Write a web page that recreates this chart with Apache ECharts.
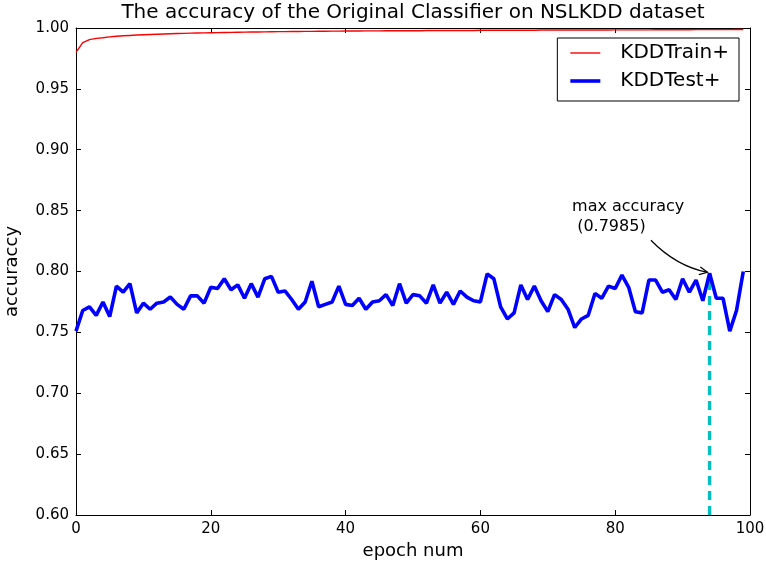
<!DOCTYPE html>
<html>
<head>
<meta charset="utf-8">
<script src="https://cdn.jsdelivr.net/npm/echarts@6/dist/echarts.min.js"></script>
<style>
    html, body { margin: 0; padding: 0; background: #fff; }
    #chart { width: 766px; height: 566px; }
</style>
</head>
<body>
<div id="chart"></div>
<script>
// accuracy per epoch
const trainAcc = [
    0.980, 0.988, 0.9905, 0.9915, 0.992, 0.9927, 0.9932, 0.9936, 0.9939, 0.9942,
    0.9945, 0.9947, 0.9949, 0.9951, 0.9953, 0.9955, 0.9956, 0.9958, 0.9959, 0.9960,
    0.9961, 0.9962, 0.9963, 0.9964, 0.9965, 0.9966, 0.9967, 0.9967, 0.9968, 0.9969,
    0.9970, 0.9970, 0.9971, 0.9971, 0.9972, 0.9972, 0.9973, 0.9973, 0.9974, 0.9974,
    0.9975, 0.9975, 0.9975, 0.9976, 0.9976, 0.9976, 0.9977, 0.9977, 0.9977, 0.9978,
    0.9978, 0.9978, 0.9979, 0.9979, 0.9979, 0.9979, 0.9980, 0.9980, 0.9980, 0.9980,
    0.9981, 0.9981, 0.9981, 0.9981, 0.9982, 0.9982, 0.9982, 0.9982, 0.9982, 0.9983,
    0.9983, 0.9983, 0.9983, 0.9983, 0.9984, 0.9984, 0.9984, 0.9984, 0.9984, 0.9984,
    0.9985, 0.9985, 0.9985, 0.9985, 0.9985, 0.9985, 0.9986, 0.9986, 0.9986, 0.9986,
    0.9986, 0.9986, 0.9987, 0.9987, 0.9987, 0.9987, 0.9987, 0.9987, 0.9988, 0.9988
];
const testAcc = [
    0.751, 0.768, 0.771, 0.764, 0.775, 0.763, 0.788, 0.783, 0.790, 0.766,
    0.774, 0.769, 0.774, 0.775, 0.779, 0.773, 0.769, 0.780, 0.780, 0.774,
    0.787, 0.786, 0.794, 0.785, 0.789, 0.778, 0.790, 0.779, 0.794, 0.796,
    0.783, 0.784, 0.777, 0.769, 0.775, 0.792, 0.771, 0.773, 0.775, 0.788,
    0.773, 0.772, 0.778, 0.769, 0.775, 0.776, 0.781, 0.772, 0.790, 0.774,
    0.781, 0.780, 0.774, 0.789, 0.774, 0.783, 0.773, 0.784, 0.779, 0.776,
    0.775, 0.798, 0.794, 0.771, 0.761, 0.766, 0.789, 0.777, 0.788, 0.776,
    0.767, 0.781, 0.777, 0.769, 0.754, 0.761, 0.764, 0.782, 0.778, 0.788,
    0.786, 0.797, 0.787, 0.767, 0.766, 0.793, 0.793, 0.783, 0.785, 0.777,
    0.794, 0.783, 0.793, 0.776, 0.7985, 0.778, 0.778, 0.751, 0.768, 0.800
];
const seriesNames = ['KDDTrain+', 'KDDTest+'];
const maxEpoch = 94;
const maxAcc = 0.7985;
const annoLines = ['max accuracy', ' (0.7985)'];
const annoTextAt = [73.6, 0.861];   // top-left of annotation text, data coords
const arrowFrom = [85.3, 0.8257];

const font = 'DejaVu Sans';
const black = '#000';

const toPairs = arr => arr.map((v, i) => [i, v]);

const chart = echarts.init(document.getElementById('chart'));

const axisCommon = {
    axisLine: { show: true, onZero: false, lineStyle: { color: black, width: 1 } },
    axisTick: { show: true, inside: true, length: 5, lineStyle: { color: black } },
    splitLine: { show: false },
};

chart.setOption({
    animation: false,
    backgroundColor: '#fff',
    title: {
        text: 'The accuracy of the Original Classifier on NSLKDD dataset',
        left: 'center',
        top: 0,
        padding: [3, 0, 0, 0],
        textStyle: { fontFamily: font, fontSize: 20, fontWeight: 'normal', color: black }
    },
    grid: { left: 76, right: 16, top: 28, bottom: 51, outerBoundsMode: 'none' },
    legend: {
        data: [
            { name: seriesNames[0], icon: 'path://M0,0H30V1.4H0Z' },
            { name: seriesNames[1], icon: 'path://M0,0H30V3.6H0Z' }
        ],
        orient: 'vertical',
        right: 27,
        top: 38,
        itemWidth: 30,
        itemHeight: 14,
        itemGap: 8,
        padding: [5, 10, 10, 13],
        borderColor: black,
        borderWidth: 1,
        borderRadius: 0,
        textStyle: { fontFamily: font, fontSize: 20, color: black, padding: [0, 0, 0, 15] }
    },
    xAxis: [
        Object.assign({
            type: 'value', min: 0, max: 100, interval: 20,
            name: 'epoch num', nameLocation: 'middle', nameGap: 27,
            nameTextStyle: { fontFamily: font, fontSize: 18, color: black },
            axisLabel: { fontFamily: font, fontSize: 15, color: black, margin: 7 }
        }, axisCommon),
        Object.assign({
            type: 'value', min: 0, max: 100, interval: 20, position: 'top',
            axisLabel: { show: false }
        }, axisCommon)
    ],
    yAxis: [
        Object.assign({
            type: 'value', min: 0.6, max: 1.0, interval: 0.05,
            name: 'accuraccy', nameLocation: 'middle', nameGap: 55,
            nameTextStyle: { fontFamily: font, fontSize: 18, color: black },
            axisLabel: {
                fontFamily: font, fontSize: 15, color: black, margin: 7,
                formatter: v => v.toFixed(2)
            }
        }, axisCommon),
        Object.assign({
            type: 'value', min: 0.6, max: 1.0, interval: 0.05, position: 'right',
            axisLabel: { show: false }
        }, axisCommon)
    ],
    series: [
        {
            name: seriesNames[0],
            type: 'line',
            data: toPairs(trainAcc),
            showSymbol: false,
            lineStyle: { color: '#ff0000', width: 1.4 },
            itemStyle: { color: '#ff0000' },
            z: 3
        },
        {
            name: seriesNames[1],
            type: 'line',
            data: toPairs(testAcc),
            showSymbol: false,
            lineStyle: { color: '#0000ff', width: 3.6 },
            itemStyle: { color: '#0000ff' },
            z: 4
        },
        {
            name: 'max',
            type: 'line',
            data: [[maxEpoch, 0.6], [maxEpoch, maxAcc]],
            showSymbol: false,
            lineStyle: { color: '#00bfbf', width: 3.4, type: [9, 6] },
            z: 2
        }
    ]
});

// title is centred over the plot area, not the page
const mid = chart.convertToPixel({ gridIndex: 0 }, [50, 1.0]);

// annotation: text + curved arrow, placed from data coords
const p0 = chart.convertToPixel({ gridIndex: 0 }, arrowFrom);
const p2 = chart.convertToPixel({ gridIndex: 0 }, [maxEpoch, maxAcc]);
p2[0] -= 2; p2[1] -= 1;
const cp = [p0[0] + 0.45 * (p2[0] - p0[0]), p2[1] - 6];
const tp = chart.convertToPixel({ gridIndex: 0 }, annoTextAt);

// arrow head direction from control point to end
const ang = Math.atan2(p2[1] - cp[1], p2[0] - cp[0]);
const hl = 9, hw = 0.45;
const h1 = [p2[0] - hl * Math.cos(ang - hw), p2[1] - hl * Math.sin(ang - hw)];
const h2 = [p2[0] - hl * Math.cos(ang + hw), p2[1] - hl * Math.sin(ang + hw)];

chart.setOption({
    title: { left: mid[0], textAlign: 'center' },
    graphic: [
        {
            type: 'text',
            left: tp[0], top: tp[1],
            style: {
                text: annoLines.join('\n'),
                font: '16px "' + font + '"',
                fill: black,
                lineHeight: 20
            }
        },
        {
            type: 'bezierCurve',
            shape: { x1: p0[0], y1: p0[1], x2: p2[0], y2: p2[1], cpx1: cp[0], cpy1: cp[1] },
            style: { stroke: black, lineWidth: 1.2, fill: null }
        },
        {
            type: 'polyline',
            shape: { points: [h1, p2, h2] },
            style: { stroke: black, lineWidth: 1.2, fill: null }
        }
    ]
});
</script>
</body>
</html>
